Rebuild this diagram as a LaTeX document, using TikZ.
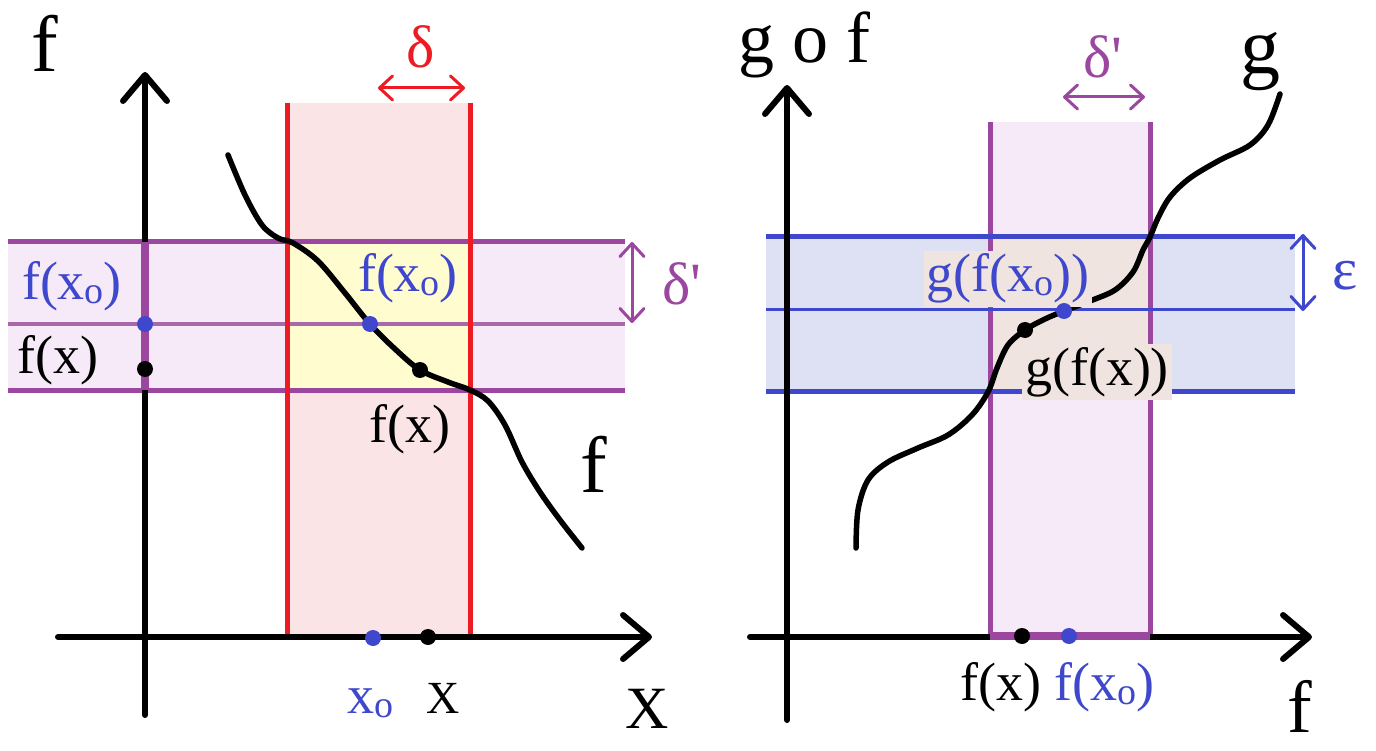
\documentclass[tikz,border=0pt]{standalone}
\usepackage{fontspec}
\setmainfont{Liberation Serif}
\usetikzlibrary{arrows.meta}
\definecolor{myred}{HTML}{ED1C24}
\definecolor{pinkfill}{HTML}{FBE4E6}
\definecolor{mypurple}{HTML}{9B479F}
\definecolor{lightpurple}{HTML}{A868AC}
\definecolor{lavfill}{HTML}{F6EAF8}
\definecolor{yelfill}{HTML}{FFFDD0}
\definecolor{myblue}{HTML}{3F48CC}
\definecolor{bluefill}{HTML}{DEE0F4}
\definecolor{beige}{HTML}{F0E4E0}
\newcommand{\xsubo}{x{\fontsize{38}{38}\selectfont\raisebox{-4pt}{o}}}
\tikzset{
  axisline/.style={line width=6pt, line cap=round, -{Straight Barb[length=26pt,width=44pt,round]}},
  dimarrow/.style={line width=3pt, {Straight Barb[length=13pt,width=24pt,round]}-{Straight Barb[length=13pt,width=24pt,round]}},
  lbl/.style={font=\fontsize{54}{54}\selectfont, inner sep=0pt, anchor=base},
  biglbl/.style={font=\fontsize{80}{80}\selectfont, inner sep=0pt, anchor=base},
  dotnode/.style={circle, fill, inner sep=0pt, minimum size=16pt},
  curveline/.style={line width=5.5pt, line cap=round, line join=round},
  bandline/.style={line width=5pt},
  midline/.style={line width=3pt},
}
\begin{document}
\begin{tikzpicture}[x=1pt,y=-1pt]
\useasboundingbox (0,0) rectangle (1376,751);
%%%%%%%%%%%% LEFT PANEL
\fill[pinkfill] (287,103) rectangle (470,637);
\fill[lavfill] (8,242) rectangle (625,390);
\fill[yelfill] (287,242) rectangle (470,390);
\draw[bandline, mypurple] (8,242) -- (625,242);
\draw[bandline, mypurple] (8,390) -- (625,390);
\draw[midline, lightpurple] (8,324) -- (625,324);
\draw[bandline, myred] (287,103) -- (287,637);
\draw[bandline, myred] (470,103) -- (470,637);
% axes
\coordinate (lyb) at (145,715);
\coordinate (lyt) at (145,72);
\coordinate (lxl) at (58,637);
\coordinate (lxr) at (652,637);
\draw[axisline] (lyb) -- (lyt);
\draw[axisline] (lxl) -- (lxr);
\draw[line width=8pt, mypurple] (145,242) -- (145,390);
% dimension arrows
\coordinate (dl1) at (378,88);
\coordinate (dl2) at (465,88);
\draw[dimarrow, myred] (dl1) -- (dl2);
\coordinate (dp1) at (632,242);
\coordinate (dp2) at (632,323);
\draw[dimarrow, mypurple] (dp1) -- (dp2);
% curve f
\draw[curveline] plot[smooth, tension=0.55] coordinates {(228,155) (245,195) (262,225) (278,238) (293,243) (318,261) (345,293) (370,324) (395,349) (420,370) (448,382) (470,390) (488,401) (505,425) (522,462) (540,492) (560,520) (582,548)};
% dots
\node[dotnode, myblue] (ya0) at (145,324) {};
\node[dotnode, black] (ya1) at (145,369) {};
\node[dotnode, myblue] (cf0) at (370,324) {};
\node[dotnode, black] (cf1) at (420,370) {};
\node[dotnode, myblue] (xa0) at (373,638) {};
\node[dotnode, black] (xa1) at (428,637) {};
% labels
\node[biglbl] (Lf) at (45,72) {f};
\node[biglbl, font=\fontsize{60}{60}\selectfont] (LX) at (647,728) {X};
\node[lbl, myblue] (Lfx0a) at (72,300) {f(\xsubo)};
\node[lbl] (Lfxa) at (58,373) {f(x)};
\node[lbl, myblue] (Lfx0b) at (408,292) {f(\xsubo)};
\node[lbl] (Lfxb) at (410,442) {f(x)};
\node[biglbl] (Lfcurve) at (594,492) {f};
\node[lbl, myblue] (Lx0) at (370,713) {\xsubo};
\node[lbl, font=\fontsize{46}{46}\selectfont] (Lx) at (443,713) {X};
\node[lbl, myred, font=\fontsize{60}{60}\selectfont] (Ldelta) at (421,68) {δ};
\node[lbl, mypurple, font=\fontsize{60}{60}\selectfont] (Ldp) at (682,305) {δ\textquotesingle};
%%%%%%%%%%%% RIGHT PANEL
\fill[lavfill] (990,122) rectangle (1150,637);
\fill[bluefill] (766,237) rectangle (1295,391);
\fill[beige] (990,237) rectangle (1150,391);
\draw[bandline, mypurple] (990,122) -- (990,637);
\draw[bandline, mypurple] (1150,122) -- (1150,637);
\draw[bandline, myblue] (766,237) -- (1295,237);
\draw[bandline, myblue] (766,391) -- (1295,391);
\draw[midline, myblue] (766,310) -- (1295,310);
% axes
\coordinate (ryb) at (787,720);
\coordinate (ryt) at (787,85);
\coordinate (rxl) at (750,637);
\coordinate (rxr) at (1312,637);
\draw[axisline] (ryb) -- (ryt);
\draw[axisline] (rxl) -- (rxr);
\draw[line width=8pt, mypurple] (990,636) -- (1150,636);
% dimension arrows
\coordinate (dr1) at (1063,97);
\coordinate (dr2) at (1145,97);
\draw[dimarrow, mypurple] (dr1) -- (dr2);
\coordinate (de1) at (1303,234);
\coordinate (de2) at (1303,311);
\draw[dimarrow, myblue] (de1) -- (de2);
% curve g
\draw[curveline] plot[smooth, tension=0.55] coordinates {(856,548) (858,510) (868,480) (888,462) (918,448) (948,435) (972,415) (988,392) (997,368) (1008,345) (1025,330) (1045,319) (1064,311) (1090,301) (1115,290) (1133,272) (1143,250) (1150,237) (1158,218) (1170,197) (1190,178) (1220,160) (1250,145) (1268,125) (1280,94)};
% labels with background
\node[lbl, myblue, fill=beige, inner sep=3pt] (Lgfx0) at (1008,292) {g(f(\xsubo))};
\node[lbl, fill=beige, inner sep=3pt] (Lgfx) at (1097,385) {g(f(x))};
% dots
\node[dotnode, black] (cg1) at (1025,330) {};
\node[dotnode, myblue] (cg0) at (1064,311) {};
\node[dotnode, black] (ra1) at (1022,636) {};
\node[dotnode, myblue] (ra0) at (1069,636) {};
% labels
\node[biglbl, font=\fontsize{72}{72}\selectfont] (Lgof) at (804,63) {g o f};
\node[biglbl] (Lg) at (1260,74) {g};
\node[biglbl, font=\fontsize{74}{74}\selectfont] (Lfr) at (1300,732) {f};
\node[lbl] (Lfxr) at (1001,700) {f(x)};
\node[lbl, myblue] (Lfx0r) at (1104,700) {f(\xsubo)};
\node[lbl, mypurple, font=\fontsize{60}{60}\selectfont] (Ldpr) at (1103,78) {δ\textquotesingle};
\node[lbl, myblue, font=\fontsize{60}{60}\selectfont] (Leps) at (1345,290) {ε};
\end{tikzpicture}
\end{document}
